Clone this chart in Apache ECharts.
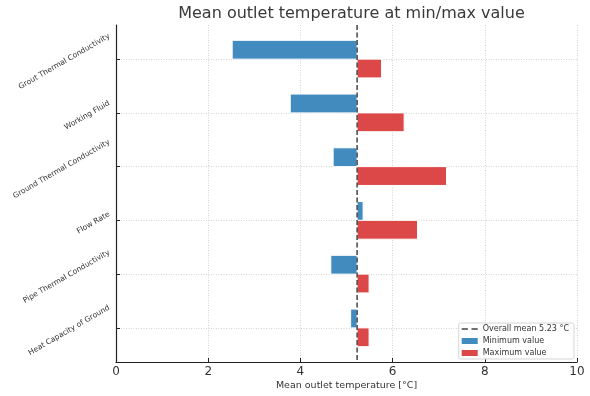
<!DOCTYPE html>
<html>
<head>
<meta charset="utf-8">
<script src="https://cdn.jsdelivr.net/npm/echarts@6/dist/echarts.min.js"></script>
<style>
  html, body { margin: 0; padding: 0; background: #fff; }
  #outletChart { width: 590px; height: 396px; }
</style>
</head>
<body>
<div id="outletChart"></div>
<script>
  // parameters, top to bottom
  const categories = ['Grout Thermal Conductivity', 'Working Fluid', 'Ground Thermal Conductivity', 'Flow Rate', 'Pipe Thermal Conductivity', 'Heat Capacity of Ground']
  const minValues = [2.52, 3.78, 4.71, 5.36, 4.66, 5.09]
  const maxValues = [5.76, 6.25, 7.17, 6.54, 5.49, 5.49]
  const overallMean = 5.23
  const xTicks = [0, 2, 4, 6, 8, 10]

  const font = 'DejaVu Sans'
  const textColor = '#333'
  const gridLine = { color: '#c9c9c9', type: [1, 1.5], width: 0.8 }
  const barHeight = 0.35
  const yMin = -0.635
  const yMax = categories.length - 1 + 0.635
  const meanName = 'Overall mean ' + overallMean.toFixed(2) + ' °C'

  // rotated y labels: centre each one on its tick like matplotlib does (ha right, rotation 30)
  const labelSize = 7.5
  const labelMargin = 8
  const ctx = document.createElement('canvas').getContext('2d')
  ctx.font = labelSize + 'px "' + font + '"'
  const rich = {}
  categories.forEach(function (name, i) {
    const len = ctx.measureText(name).width
    const c = Math.cos(Math.PI / 6)
    const s = Math.sin(Math.PI / 6)
    const w = len * c + 9 * s
    const dx = (-4.5 - w / 2) + labelMargin // shift wanted from the label anchor
    const dy = 2.5
    const a = dx * c - dy * s // along the text
    const b = -dx * s - dy * c // across the text
    rich['c' + i] = {
      fontSize: labelSize,
      fontFamily: font,
      color: textColor,
      padding: [b < 0 ? -2 * b : 0, a < 0 ? -2 * a : 0, b > 0 ? 2 * b : 0, a > 0 ? 2 * a : 0]
    }
  })

  function barRenderer (offset, color) {
    return function (params, api) {
      const idx = api.value(0)
      const p1 = api.coord([overallMean, idx + offset - barHeight / 2])
      const p2 = api.coord([api.value(1), idx + offset + barHeight / 2])
      return {
        type: 'rect',
        shape: {
          x: Math.min(p1[0], p2[0]),
          y: Math.min(p1[1], p2[1]),
          width: Math.abs(p2[0] - p1[0]),
          height: Math.abs(p2[1] - p1[1])
        },
        style: { fill: color, stroke: '#fff', lineWidth: 1 }
      }
    }
  }

  const chart = echarts.init(document.getElementById('outletChart'))
  chart.setOption({
    animation: false,
    title: {
      text: 'Mean outlet temperature at min/max value',
      left: 346.5,
      top: 1,
      textAlign: 'center',
      textStyle: { fontFamily: font, fontSize: 16, fontWeight: 'normal', color: '#3a3a3a' }
    },
    grid: { left: 116, right: 13, top: 25, bottom: 34 },
    legend: {
      orient: 'vertical',
      right: 16,
      bottom: 37,
      itemWidth: 16,
      itemHeight: 6,
      itemGap: 4,
      padding: [2, 5, 2, 3],
      borderColor: '#d5d5d5',
      borderWidth: 1,
      borderRadius: 2,
      backgroundColor: 'rgba(255,255,255,0.8)',
      textStyle: { fontFamily: font, fontSize: 8, color: textColor },
      data: [
        { name: meanName, icon: 'path://M0,0 h6 v1.6 h-6 z M9.5,0 h6 v1.6 h-6 z', itemStyle: { color: '#444' } },
        { name: 'Minimum value', icon: 'rect' },
        { name: 'Maximum value', icon: 'rect' }
      ]
    },
    xAxis: {
      type: 'value',
      min: xTicks[0],
      max: xTicks[xTicks.length - 1],
      interval: xTicks[1] - xTicks[0],
      name: 'Mean outlet temperature [°C]',
      nameLocation: 'middle',
      nameGap: 19,
      nameMoveOverlap: false,
      nameTextStyle: { fontFamily: font, fontSize: 9.5, color: textColor },
      axisLine: { onZero: false, lineStyle: { color: '#222', width: 1.2 } },
      axisTick: { inside: true, length: 4, lineStyle: { color: '#222' } },
      axisLabel: { fontFamily: font, fontSize: 12, color: textColor, margin: 4 },
      splitLine: { show: true, lineStyle: gridLine }
    },
    yAxis: {
      type: 'value',
      inverse: true,
      min: yMin,
      max: yMax,
      axisLine: { show: true, onZero: false, lineStyle: { color: '#222', width: 1.2 } },
      axisTick: { show: true, inside: true, length: 4, customValues: categories.map(function (c, i) { return i }), lineStyle: { color: '#222' } },
      axisLabel: {
        rotate: 30,
        align: 'center',
        verticalAlign: 'middle',
        margin: labelMargin,
        customValues: categories.map(function (c, i) { return i }),
        formatter: function (value) {
          const i = Math.round(value)
          return '{c' + i + '|' + categories[i] + '}'
        },
        rich: rich
      },
      splitLine: { show: true, lineStyle: gridLine }
    },
    series: [{
      name: 'Minimum value',
      type: 'custom',
      itemStyle: { color: '#418bbf' },
      encode: { x: 1, y: 0 },
      renderItem: barRenderer(-barHeight / 2, '#418bbf'),
      data: minValues.map(function (v, i) { return [i, v] })
    }, {
      name: 'Maximum value',
      type: 'custom',
      itemStyle: { color: '#dc4748' },
      encode: { x: 1, y: 0 },
      renderItem: barRenderer(barHeight / 2, '#dc4748'),
      data: maxValues.map(function (v, i) { return [i, v] })
    }, {
      name: meanName,
      type: 'line',
      symbol: 'none',
      z: 5,
      lineStyle: { color: '#444', width: 1.5, type: [5, 2.5] },
      itemStyle: { color: '#444' },
      data: [[overallMean, yMin], [overallMean, yMax]]
    }]
  })
</script>
</body>
</html>
